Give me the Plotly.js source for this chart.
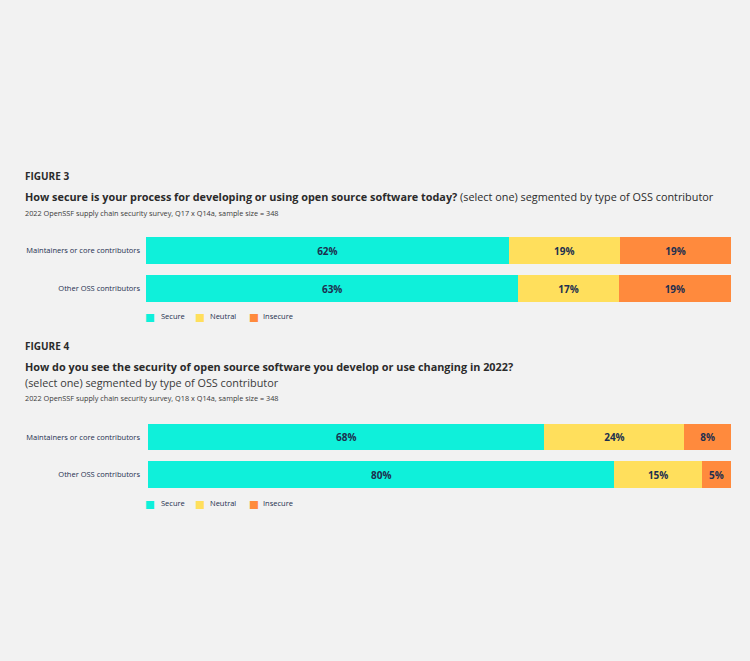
<!DOCTYPE html>
<html>
<head>
<meta charset="utf-8">
<script src="https://cdn.plot.ly/plotly-3.0.1.min.js"></script>
<style>
html,body{margin:0;padding:0;background:#f2f2f2;}
#chart{width:750px;height:661px;}
</style>
</head>
<body>
<div id="chart"></div>
<script>
// ---- data ----
const categories = ['Maintainers or core contributors', 'Other OSS contributors'];
const seriesNames = ['Secure', 'Neutral', 'Insecure'];
const fig3Secure = [62, 63];
const fig3Neutral = [19, 17];
const fig3Insecure = [19, 19];
const fig4Secure = [68, 80];
const fig4Neutral = [24, 15];
const fig4Insecure = [8, 5];

// ---- styles ----
const colors = ['#0ff0da', '#ffdf5c', '#ff8a3d'];
const FONT = 'Open Sans, sans-serif';
const navy = '#1d2f4f';
const W = 750, H = 661;
const py = p => 1 - p / H;
const px = p => p / W;

function barTrace(name, vals, i, xa, ya) {
  return {
    type: 'bar', orientation: 'h',
    name: name, y: categories, x: vals,
    xaxis: xa, yaxis: ya,
    marker: {color: colors[i], line: {width: 0}},
    text: vals.map(v => v + '%'),
    textposition: 'inside', insidetextanchor: 'middle',
    textfont: {family: FONT, size: 10, color: navy, weight: 'bold'},
    width: 0.71,
    showlegend: false,
    hoverinfo: 'skip'
  };
}

const data = [
  barTrace(seriesNames[0], fig3Secure, 0, 'x', 'y'),
  barTrace(seriesNames[1], fig3Neutral, 1, 'x', 'y'),
  barTrace(seriesNames[2], fig3Insecure, 2, 'x', 'y'),
  barTrace(seriesNames[0], fig4Secure, 0, 'x2', 'y2'),
  barTrace(seriesNames[1], fig4Neutral, 1, 'x2', 'y2'),
  barTrace(seriesNames[2], fig4Insecure, 2, 'x2', 'y2')
];

function ann(text, y, size, bold, color) {
  return {
    xref: 'paper', yref: 'paper', x: px(23), y: py(y),
    xanchor: 'left', yanchor: 'middle', showarrow: false,
    text: text, align: 'left',
    font: {family: FONT, size: size, color: color, weight: bold ? 'bold' : 'normal'}
  };
}

// legend built from annotations (small square swatch + label)
const legendSwatchX = [150, 200, 253.5];
const legendLabelX = [159, 208, 261];
function legendAnns(yc) {
  const out = [];
  seriesNames.forEach((name, i) => {
    out.push({
      xref: 'paper', yref: 'paper', x: px(legendSwatchX[i]), y: py(yc + 0.5),
      xanchor: 'center', yanchor: 'middle', showarrow: false,
      text: '■', font: {family: 'DejaVu Sans', size: 10.5, color: colors[i]}
    });
    out.push({
      xref: 'paper', yref: 'paper', x: px(legendLabelX[i]), y: py(yc),
      xanchor: 'left', yanchor: 'middle', showarrow: false,
      text: name, font: {family: FONT, size: 7.5, color: navy}
    });
  });
  return out;
}

const yaxisBase = {
  type: 'category', autorange: 'reversed',
  showgrid: false, zeroline: false, showline: false, ticks: '',
  tickfont: {family: FONT, size: 7.5, color: navy},
  fixedrange: true
};
const xaxisBase = {range: [0, 100], visible: false, fixedrange: true};

const layout = {
  width: W, height: H,
  paper_bgcolor: '#f2f2f2', plot_bgcolor: 'rgba(0,0,0,0)',
  margin: {l: 0, r: 0, t: 0, b: 0},
  barmode: 'stack', barnorm: 'percent',
  showlegend: false,
  xaxis: Object.assign({}, xaxisBase, {domain: [px(146), px(731)], anchor: 'y'}),
  yaxis: Object.assign({}, yaxisBase, {domain: [py(307.5), py(231.5)], anchor: 'x', ticklabelstandoff: 5}),
  xaxis2: Object.assign({}, xaxisBase, {domain: [px(148), px(731)], anchor: 'y2'}),
  yaxis2: Object.assign({}, yaxisBase, {domain: [py(493.25), py(418.25)], anchor: 'x2', ticklabelstandoff: 7}),
  annotations: [
    ann('FIGURE 3', 176.5, 10, true, '#2b2b2b'),
    ann('<b>How secure is your process for developing or using open source software today?</b> (select one) segmented by type of OSS contributor', 196.7, 10.85, false, '#2b2b2b'),
    ann('2022 OpenSSF supply chain security survey, Q17 x Q14a, sample size = 348', 212.5, 7.3, false, '#3a3a3a'),
    ann('FIGURE 4', 345.5, 10, true, '#2b2b2b'),
    ann('<b>How do you see the security of open source software you develop or use changing in 2022?</b>', 366.5, 10.85, false, '#2b2b2b'),
    ann('(select one) segmented by type of OSS contributor', 382.7, 10.85, false, '#3a3a3a'),
    ann('2022 OpenSSF supply chain security survey, Q18 x Q14a, sample size = 348', 397.7, 7.3, false, '#3a3a3a')
  ].concat(legendAnns(316), legendAnns(503))
};

Plotly.newPlot('chart', data, layout, {displayModeBar: false, staticPlot: true});
</script>
</body>
</html>
